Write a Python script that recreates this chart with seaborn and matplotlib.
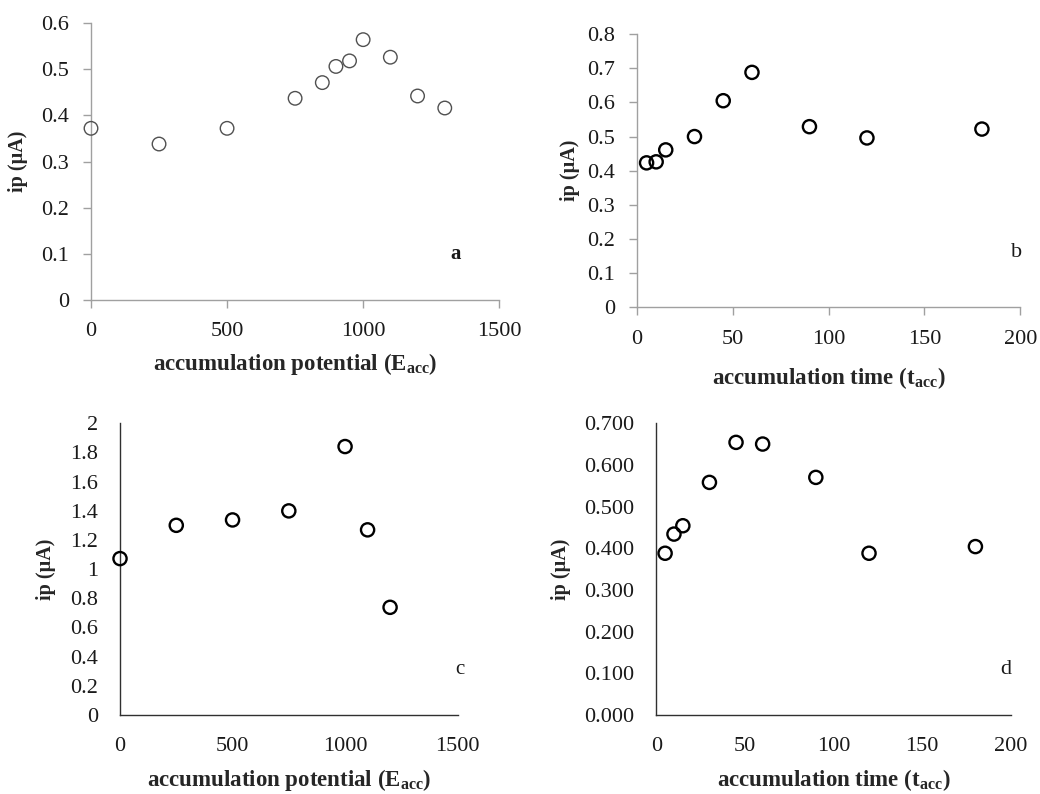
import matplotlib
matplotlib.use("Agg")
import matplotlib.pyplot as plt
import seaborn as sns
import pandas as pd

# ---- data ----
pot_a = [0, 250, 500, 750, 850, 900, 950, 1000, 1100, 1200, 1300]
ip_a = [0.372, 0.338, 0.372, 0.437, 0.471, 0.506, 0.518, 0.564, 0.526, 0.442, 0.416]

time_b = [5, 10, 15, 30, 45, 60, 90, 120, 180]
ip_b = [0.423, 0.426, 0.461, 0.500, 0.605, 0.688, 0.529, 0.496, 0.522]

pot_c = [0, 250, 500, 750, 1000, 1100, 1200]
ip_c = [1.072, 1.300, 1.337, 1.399, 1.840, 1.269, 0.738]

time_d = [5, 10, 15, 30, 45, 60, 90, 120, 180]
ip_d = [0.388, 0.434, 0.454, 0.558, 0.654, 0.650, 0.570, 0.388, 0.404]

sns.set_theme(style="white")
plt.rcParams['font.family'] = ['Liberation Serif', 'DejaVu Serif']
plt.rcParams['mathtext.fontset'] = 'custom'
plt.rcParams['mathtext.rm'] = 'Liberation Serif'
plt.rcParams['mathtext.bf'] = 'Liberation Serif:bold'

fig = plt.figure(figsize=(10.4, 7.94), dpi=100)

axa = fig.add_axes([0.0875, 0.622, 0.3925, 0.349])
axb = fig.add_axes([0.6125, 0.613, 0.3685, 0.344])
axc = fig.add_axes([0.1154, 0.0995, 0.3246, 0.3675])
axd = fig.add_axes([0.631, 0.0995, 0.341, 0.3675])

TICK = 16
LAB = 16.5
YLAB = 14.5

def style(ax, ticks, spine_color):
    for s in ['top', 'right']:
        ax.spines[s].set_visible(False)
    for s in ['left', 'bottom']:
        ax.spines[s].set_color(spine_color)
        ax.spines[s].set_linewidth(1.0)
    if ticks:
        ax.tick_params(axis='both', which='major', direction='out', length=6,
                       width=1.0, color=spine_color, pad=10, labelsize=TICK,
                       labelcolor='#1a1a1a', left=True, bottom=True)
    else:
        ax.tick_params(axis='both', which='major', length=0, pad=16,
                       labelsize=TICK, labelcolor='#1a1a1a')
    ax.grid(False)

def scatter(ax, x, y, edge, lw, size):
    df = pd.DataFrame({'x': x, 'y': y})
    sns.scatterplot(data=df, x='x', y='y', ax=ax, marker='o', s=size,
                    facecolor='none', edgecolor=edge, linewidth=lw, zorder=3,
                    clip_on=False)

ylab = 'ip (µA)'

# panel a
scatter(axa, pot_a, ip_a, '#505050', 1.0, 95)
axa.set_xlim(0, 1500)
axa.set_ylim(0, 0.6)
axa.set_xticks([0, 500, 1000, 1500])
axa.set_yticks([0, 0.1, 0.2, 0.3, 0.4, 0.5, 0.6])
axa.set_yticklabels(['0', '0.1', '0.2', '0.3', '0.4', '0.5', '0.6'])
style(axa, True, '#a0a0a0')
axa.text(1340, 0.1, 'a', fontsize=15, fontweight='bold', ha='center', va='center', color='#1a1a1a')
axa.set_xlabel(r'accumulation potential (E$_{\mathbf{acc}}$)', fontsize=LAB,
               fontweight='bold', labelpad=7)
axa.set_ylabel(ylab, fontsize=YLAB, fontweight='bold', labelpad=9)

# panel b
scatter(axb, time_b, ip_b, '#000000', 1.7, 90)
axb.set_xlim(0, 200)
axb.set_ylim(0, 0.8)
axb.set_xticks([0, 50, 100, 150, 200])
axb.set_yticks([0, 0.1, 0.2, 0.3, 0.4, 0.5, 0.6, 0.7, 0.8])
axb.set_yticklabels(['0', '0.1', '0.2', '0.3', '0.4', '0.5', '0.6', '0.7', '0.8'])
style(axb, True, '#a0a0a0')
axb.text(198, 0.16, 'b', fontsize=16, ha='center', va='center', color='#1a1a1a')
axb.set_xlabel(r'accumulation time (t$_{\mathbf{acc}}$)', fontsize=LAB,
               fontweight='bold', labelpad=12)
axb.set_ylabel(ylab, fontsize=YLAB, fontweight='bold', labelpad=5)

# panel c
scatter(axc, pot_c, ip_c, '#000000', 1.7, 90)
axc.set_xlim(0, 1500)
axc.set_ylim(0, 2)
axc.set_xticks([0, 500, 1000, 1500])
axc.set_yticks([0, 0.2, 0.4, 0.6, 0.8, 1.0, 1.2, 1.4, 1.6, 1.8, 2.0])
axc.set_yticklabels(['0', '0.2', '0.4', '0.6', '0.8', '1', '1.2', '1.4', '1.6', '1.8', '2'])
style(axc, False, '#303030')
axc.text(1510, 0.31, 'c', fontsize=15, ha='center', va='center', color='#1a1a1a')
axc.set_xlabel(r'accumulation potential (E$_{\mathbf{acc}}$)', fontsize=LAB,
               fontweight='bold', labelpad=8)
axc.set_ylabel(ylab, fontsize=YLAB, fontweight='bold', labelpad=10)

# panel d
scatter(axd, time_d, ip_d, '#000000', 1.7, 90)
axd.set_xlim(0, 200)
axd.set_ylim(0, 0.7)
axd.set_xticks([0, 50, 100, 150, 200])
axd.set_yticks([0, 0.1, 0.2, 0.3, 0.4, 0.5, 0.6, 0.7])
axd.set_yticklabels(['0.000', '0.100', '0.200', '0.300', '0.400', '0.500', '0.600', '0.700'])
style(axd, False, '#303030')
axd.text(197, 0.108, 'd', fontsize=16, ha='center', va='center', color='#1a1a1a')
axd.set_xlabel(r'accumulation time (t$_{\mathbf{acc}}$)', fontsize=LAB,
               fontweight='bold', labelpad=8)
axd.set_ylabel(ylab, fontsize=YLAB, fontweight='bold', labelpad=9)

fig.savefig('out.png', dpi=100, facecolor='white')
